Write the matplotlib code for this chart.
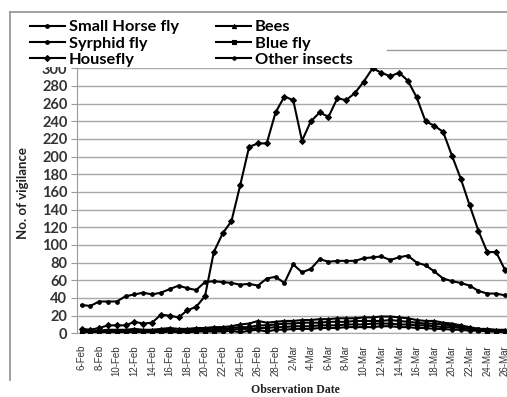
import matplotlib
matplotlib.use("Agg")
import matplotlib.pyplot as plt
from matplotlib.lines import Line2D
from matplotlib.patches import Rectangle

# Observation dates (daily, 6-Feb to 26-Mar)
dates = ["6-Feb", "7-Feb", "8-Feb", "9-Feb", "10-Feb", "11-Feb", "12-Feb", "13-Feb",
         "14-Feb", "15-Feb", "16-Feb", "17-Feb", "18-Feb", "19-Feb", "20-Feb", "21-Feb",
         "22-Feb", "23-Feb", "24-Feb", "25-Feb", "26-Feb", "27-Feb", "28-Feb", "1-Mar",
         "2-Mar", "3-Mar", "4-Mar", "5-Mar", "6-Mar", "7-Mar", "8-Mar", "9-Mar",
         "10-Mar", "11-Mar", "12-Mar", "13-Mar", "14-Mar", "15-Mar", "16-Mar", "17-Mar",
         "18-Mar", "19-Mar", "20-Mar", "21-Mar", "22-Mar", "23-Mar", "24-Mar", "25-Mar",
         "26-Mar"]

small_horse_fly = [32, 31, 36, 36, 36, 42, 44, 46, 44, 46, 50, 54, 51, 49, 58, 59, 58,
                   57, 55, 56, 54, 62, 64, 57, 78, 69, 73, 84, 81, 82, 82, 82, 85,
                   86, 87, 83, 86, 88, 80, 77, 70, 62, 59, 57, 54, 48, 45, 45, 43]
syrphid_fly = [2, 1, 2, 3, 3, 3, 3, 2, 3, 4, 4, 3, 4, 4,
               5, 5, 5, 6, 7, 7, 9, 9, 10, 11,
               11, 12, 12, 12, 13, 13, 13, 14, 14, 14, 14, 15, 14,
               13, 12, 11, 11, 10, 9, 8, 6, 5, 4, 3, 3]
housefly = [5, 4, 6, 9, 9, 9, 13, 11, 12, 21, 20, 18, 26, 30,
            42, 92, 113, 127, 168, 211, 215, 215, 250, 268, 264, 218, 240, 250, 245,
            266, 264, 272, 285, 300, 295, 291, 295, 286, 267, 240, 235, 228, 201, 175,
            145, 116, 92, 92, 72]
bees = [3, 2, 3, 4, 4, 4, 5, 4, 4, 5, 6, 5, 5, 6,
        6, 7, 7, 8, 10, 11, 14, 12, 13, 14,
        14, 15, 15, 16, 16, 17, 17, 17, 18, 18, 19, 19, 18,
        17, 15, 14, 14, 12, 11, 9, 7, 5, 5, 4, 4]
blue_fly = [1, 1, 1, 2, 2, 2, 2, 1, 2, 2, 3, 2, 2, 3,
            3, 3, 4, 4, 5, 5, 6, 6, 7, 7,
            8, 8, 8, 9, 9, 9, 10, 10, 10, 11, 11, 11, 10,
            10, 9, 9, 8, 7, 7, 6, 5, 4, 3, 2, 2]
other_insects = [0, 1, 0, 1, 1, 1, 1, 0, 1, 1, 2, 1, 1, 2,
                 2, 2, 2, 3, 1, 3, 4, 2, 4, 4,
                 5, 5, 5, 6, 6, 6, 7, 7, 7, 7, 8, 8, 7,
                 7, 6, 6, 5, 5, 4, 4, 3, 3, 2, 2, 1]

series = [
    ("Small Horse fly", small_horse_fly, "o", 2.6),
    ("Syrphid fly", syrphid_fly, "o", 2.6),
    ("Housefly", housefly, "D", 3.0),
    ("Bees", bees, "^", 3.0),
    ("Blue fly", blue_fly, "s", 3.4),
    ("Other insects", other_insects, "o", 2.4),
]

W, H = 507, 397
fig = plt.figure(figsize=(W / 100, H / 100), dpi=100)

def fx(px):
    return px / W

def fy(py):
    return 1 - py / H

x0, x1 = 77.1, 509.3
y_top, y_bot = 68.3, 333.3
ax = fig.add_axes([fx(x0), fy(y_bot), fx(x1) - fx(x0), fy(y_top) - fy(y_bot)])

idx = list(range(len(dates)))
handles = []
for name, vals, mk, ms in series:
    h, = ax.plot(idx, vals, color="black", lw=1.5, marker=mk, ms=ms,
                 markeredgewidth=0.8, label=name, zorder=3)
    handles.append(h)

ax.set_xlim(-0.5, len(dates) - 0.5)
ax.set_ylim(0, 300)
ax.set_yticks(range(0, 301, 20))
ax.set_xticks(idx[::2])
ax.set_xticklabels(dates[::2], rotation=90, fontsize=7, color="#333333",
                   family="Liberation Sans")
for lab in ax.get_yticklabels():
    lab.set_fontfamily("Lato")
    lab.set_fontweight("bold")
    lab.set_fontsize(10.5)
    lab.set_color("#333333")

ax.grid(axis="y", color="#a8a8a8", lw=1.0, zorder=0)
ax.set_axisbelow(True)
for s in ("top", "right"):
    ax.spines[s].set_visible(False)
ax.spines["left"].set_color("#9a9a9a")
ax.spines["bottom"].set_color("#a8a8a8")
ax.tick_params(axis="y", length=4, color="#9a9a9a", pad=3)
ax.tick_params(axis="x", length=0, pad=8.5)

ax.set_ylabel("No. of vigilance", fontfamily="Lato", fontweight="bold",
              fontsize=9.5, color="#222222")
ax.yaxis.set_label_coords((29 - x0) / (x1 - x0), (y_bot - 193) / (y_bot - y_top))

# White band behind the legend, overlapping the top of the axis labels
fig.patches.append(Rectangle((fx(11), fy(67.3)), fx(380) - fx(11), fy(13) - fy(67.3),
                             transform=fig.transFigure, facecolor="white",
                             edgecolor="none", zorder=4))

# Chart frame lines
fig.add_artist(Line2D([fx(10), fx(10)], [fy(12), fy(380)], color="#9a9a9a", lw=1.3,
                      transform=fig.transFigure))
fig.add_artist(Line2D([fx(10), fx(507)], [fy(12), fy(12)], color="#9a9a9a", lw=1.3,
                      transform=fig.transFigure))
fig.add_artist(Line2D([fx(387), fx(507)], [fy(50), fy(50)], color="#9a9a9a", lw=1.0,
                      transform=fig.transFigure))

leg = fig.legend(handles=handles, loc="upper left", ncol=2,
                 bbox_to_anchor=(fx(27), fy(16.5)), frameon=False,
                 prop={"family": "Lato", "weight": "bold", "size": 11.8},
                 handlelength=2.1, handletextpad=0.25, columnspacing=2.3,
                 labelspacing=0.12, borderpad=0.2, borderaxespad=0)
leg.set_zorder(5)

fig.text(fx(295), fy(390), "Observation Date", ha="center", va="center",
         fontfamily="Liberation Serif", fontweight="bold", fontsize=8.5,
         color="#222222")

fig.savefig("out.png", dpi=100)
